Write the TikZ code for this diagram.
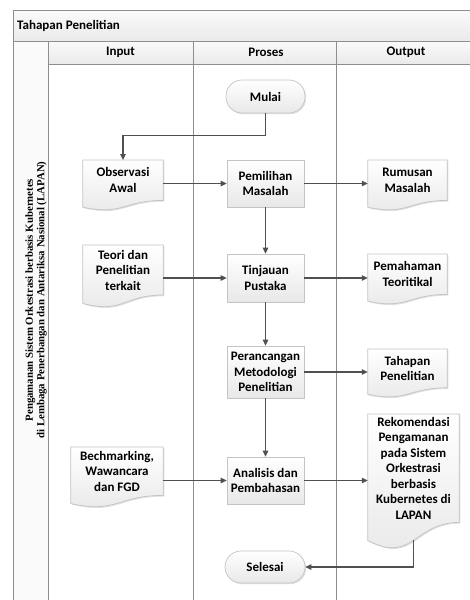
\documentclass[tikz,border=0pt]{standalone}
\usepackage{fontspec}
\setmainfont{Carlito}
\newfontfamily\tnr{Liberation Serif}
\usetikzlibrary{arrows.meta,calc,shadows}
\pgfdeclarelayer{lanes}
\pgfdeclarelayer{background}
\pgfsetlayers{lanes,background,main}
\definecolor{lanegray}{HTML}{8E8E8E}
\definecolor{boxgray}{HTML}{C4C4C4}
\definecolor{boxbot}{HTML}{E8E8E8}
\definecolor{arrgray}{HTML}{505050}
\definecolor{bandtop}{HTML}{FAFAFA}
\definecolor{bandbot}{HTML}{EAEAEA}
\newcommand{\nodefont}{\fontsize{13}{15.5}\selectfont\bfseries}
\newcommand{\drawdocshape}[1]{%
  \begin{pgfonlayer}{background}
  \path[docshape] (#1.north west) -- (#1.north east) -- (#1.south east)
    .. controls (#1.south) and ($(#1.north)!1.384!(#1.south)$) ..
    ($(#1.north west)!1.1675!(#1.south west)$) -- cycle;
  \end{pgfonlayer}}
\tikzset{
  lane/.style={draw=lanegray, line width=0.8pt},
  softshadow/.style={drop shadow={shadow xshift=1.2pt, shadow yshift=-1.2pt, opacity=0.12, fill=black}},
  procbox/.style={draw=boxgray, line width=0.7pt, top color=white, bottom color=boxbot,
    minimum width=77pt, align=center, font=\nodefont, inner sep=0pt, softshadow},
  termbox/.style={procbox, rounded corners=16pt, minimum width=79pt, minimum height=33pt},
  docnode/.style={align=center, font=\nodefont, inner sep=0pt, anchor=north},
  docshape/.style={draw=boxgray, line width=0.7pt, top color=white, bottom color=boxbot, softshadow},
  arr/.style={draw=arrgray, line width=1.1pt, -{Triangle[length=6pt,width=5.5pt]}},
  headtxt/.style={font=\fontsize{13}{15}\selectfont\bfseries, inner sep=0pt},
}
\begin{document}
\begin{tikzpicture}[x=1pt,y=-1pt]
\useasboundingbox (0,0) rectangle (470,600);

% lanes
\begin{pgfonlayer}{lanes}
\fill[white] (0,0) rectangle (470,600);
\shade[top color=bandtop, bottom color=bandbot] (13,10) rectangle (470,41);
\shade[top color=bandtop, bottom color=bandbot] (48,41) rectangle (470,64);
\fill[bandtop] (13,41) rectangle (48,600);
\draw[lane] (13,600) -- (13,10) -- (470,10);
\draw[lane] (13,41) -- (470,41);
\draw[lane] (48,64) -- (470,64);
\draw[lane] (48,41) -- (48,600);
\draw[lane] (193,41) -- (193,600);
\draw[lane] (336,41) -- (336,600);
\end{pgfonlayer}

\node[headtxt, anchor=west] (title) at (17,25.5) {Tahapan Penelitian};
\node[headtxt] (hin) at (120.5,52.5) {Input};
\node[headtxt] (hpr) at (266,52.5) {Proses};
\node[headtxt] (hout) at (406,52.5) {Output};
\node[rotate=90, align=center, inner sep=0pt, font=\tnr\fontsize{10.8}{11.5}\selectfont\bfseries] (side) at (36,300)
  {Pengamanan Sistem Orkestrasi berbasis Kubernetes\\di Lembaga Penerbangan dan Antariksa Nasional (LAPAN)};

% process column
\node[termbox] (mulai) at (265.5,96.5) {Mulai};
\node[procbox, minimum height=47pt] (pem) at (265.5,183.5) {Pemilihan\\Masalah};
\node[procbox, minimum height=48pt] (tin) at (265.5,278) {Tinjauan\\Pustaka};
\node[procbox, minimum height=52pt] (per) at (265.5,372) {Perancangan\\Metodologi\\Penelitian};
\node[procbox, minimum height=47pt] (ana) at (265.5,480.5) {Analisis dan\\Pembahasan};
\node[termbox, minimum width=80pt, minimum height=32pt] (sel) at (265,567) {Selesai};

% documents
\node[docnode, minimum width=80pt, minimum height=40pt] (obs) at (123,160) {Observasi\\Awal};
\drawdocshape{obs}
\node[docnode, minimum width=79pt, minimum height=40pt] (rum) at (407.5,160) {Rumusan\\Masalah};
\drawdocshape{rum}
\node[docnode, minimum width=80pt, minimum height=49.6pt] (teo) at (123,245) {Teori dan\\Penelitian\\terkait};
\drawdocshape{teo}
\node[docnode, minimum width=79pt, minimum height=40pt] (pmh) at (407.5,254) {Pemahaman\\Teoritikal};
\drawdocshape{pmh}
\node[docnode, minimum width=79pt, minimum height=38.4pt] (thp) at (407.5,349) {Tahapan\\Penelitian};
\drawdocshape{thp}
\node[docnode, minimum width=92pt, minimum height=48pt] (bch) at (117,447) {Bechmarking,\\Wawancara\\dan FGD};
\drawdocshape{bch}
\node[docnode, minimum width=91pt, minimum height=108pt] (rek) at (413.5,414) {Rekomendasi\\Pengamanan\\pada Sistem\\Orkestrasi\\berbasis\\Kubernetes di\\LAPAN};
\drawdocshape{rek}
\coordinate (rekb) at ($(rek.north)!1.166!(rek.south)$);

% connectors
\draw[arr] (mulai.south) -- ++(0,22) -| (obs.north);
\draw[arr] (obs.east |- pem.west) -- (pem.west);
\draw[arr] (pem.east) -- (pem.east -| rum.west);
\draw[arr] (pem.south) -- (tin.north);
\draw[arr] (teo.east |- tin.west) -- (tin.west);
\draw[arr] (tin.east) -- (tin.east -| pmh.west);
\draw[arr] (tin.south) -- (per.north);
\draw[arr] (per.east) -- (per.east -| thp.west);
\draw[arr] (per.south) -- (ana.north);
\draw[arr] (bch.east |- ana.west) -- (ana.west);
\draw[arr] (ana.east) -- (ana.east -| rek.west);
\draw[arr] (rekb) |- (sel.east);
\end{tikzpicture}
\end{document}
